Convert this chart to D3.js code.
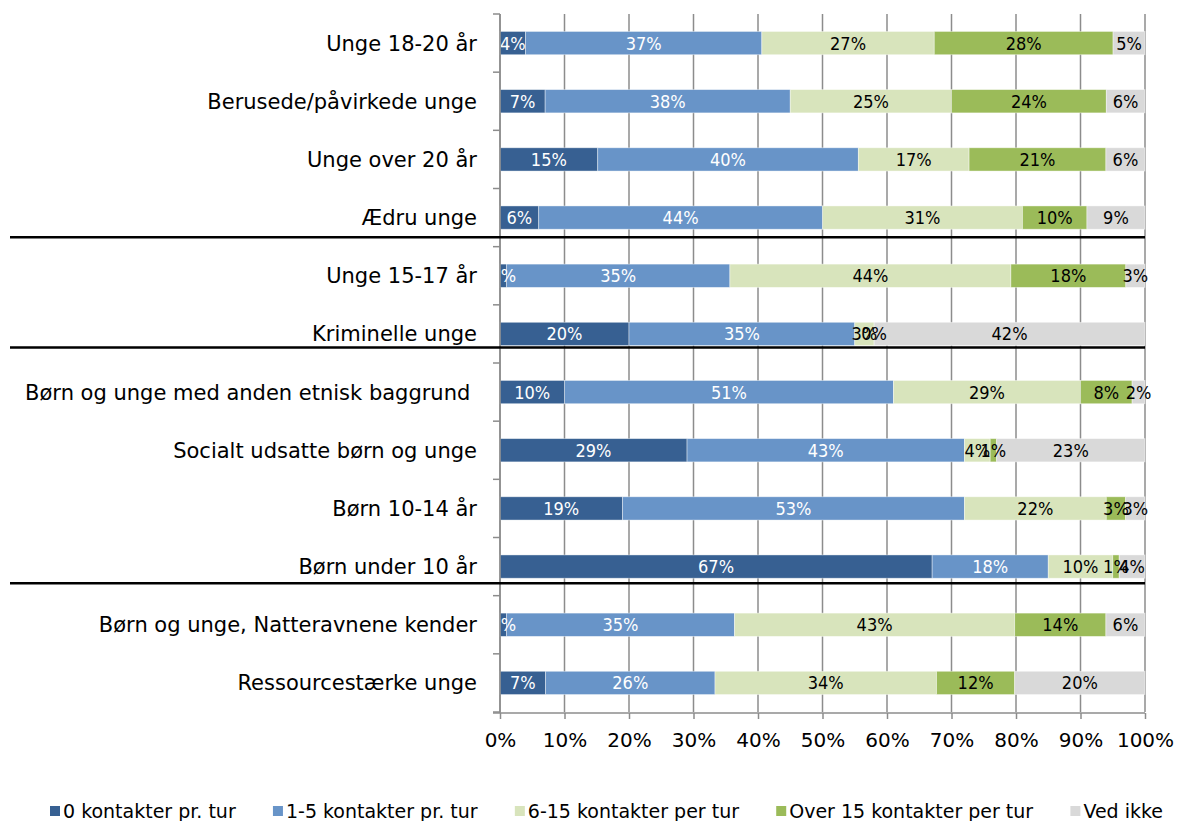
<!DOCTYPE html>
<html>
<head>
<meta charset="utf-8">
<script src="https://cdn.jsdelivr.net/npm/d3@7"></script>
<style>
  body { margin: 0; background: #fff; }
  svg { display: block; }
</style>
</head>
<body>
<svg id="chart"></svg>
<script>
// categories top to bottom
const categories = ['Unge 18-20 år', 'Berusede/påvirkede unge', 'Unge over 20 år', 'Ædru unge',
    'Unge 15-17 år', 'Kriminelle unge', 'Børn og unge med anden etnisk baggrund ',
    'Socialt udsatte børn og unge', 'Børn 10-14 år', 'Børn under 10 år',
    'Børn og unge, Natteravnene kender', 'Ressourcestærke unge']

const seriesNames = ['0 kontakter pr. tur', '1-5 kontakter pr. tur', '6-15 kontakter per tur',
    'Over 15 kontakter per tur', 'Ved ikke']

const kontakter0 = [4, 7, 15, 6, 1, 20, 10, 29, 19, 67, 1, 7]
const kontakter1til5 = [37, 38, 40, 44, 35, 35, 51, 43, 53, 18, 35, 26]
const kontakter6til15 = [27, 25, 17, 31, 44, 3, 29, 4, 22, 10, 43, 34]
const over15 = [28, 24, 21, 10, 18, 0, 8, 1, 3, 1, 14, 12]
const vedIkke = [5, 6, 6, 9, 3, 42, 2, 23, 3, 4, 6, 20]

const tickValues = [0, 0.1, 0.2, 0.3, 0.4, 0.5, 0.6, 0.7, 0.8, 0.9, 1]

// groups are split by a black line after these rows
const separatorsAfter = ['Ædru unge', 'Kriminelle unge', 'Børn under 10 år']

const colors = ['#376092', '#6894c8', '#d8e4bc', '#9bbb59', '#d9d9d9']
const labelColors = ['#fff', '#fff', '#000', '#000', '#000']

const svgWidth = 1179
const svgHeight = 821
const plotLeft = 500, plotRight = 1145, plotTop = 14, plotBottom = 712

const allSeries = [kontakter0, kontakter1til5, kontakter6til15, over15, vedIkke]

// one row object per category
const rows = categories.map((c, i) => {
    const r = { cat: c }
    seriesNames.forEach((s, j) => { r[s] = allSeries[j][i] })
    return r
})

const stacked = d3.stack()
    .keys(seriesNames)
    .offset(d3.stackOffsetExpand)(rows)

const svg = d3.select('#chart')
    .attr('width', svgWidth)
    .attr('height', svgHeight)

const x = d3.scaleLinear().domain([0, 1]).range([plotLeft, plotRight])
const y = d3.scaleBand().domain(categories).range([plotTop, plotBottom])
    .paddingInner(0.6).paddingOuter(0.3)

// vertical gridlines
svg.append('g')
    .selectAll('line')
    .data(tickValues)
    .join('line')
    .attr('x1', d => x(d)).attr('x2', d => x(d))
    .attr('y1', plotTop).attr('y2', plotBottom)
    .attr('stroke', '#8c8c8c')
    .attr('stroke-width', 1.5)

// bars
svg.append('g')
    .selectAll('g')
    .data(stacked)
    .join('g')
    .attr('fill', (d, i) => colors[i])
    .selectAll('rect')
    .data(d => d)
    .join('rect')
    .attr('x', d => x(d[0]))
    .attr('width', d => x(d[1]) - x(d[0]))
    .attr('y', d => y(d.data.cat))
    .attr('height', y.bandwidth())
    .attr('stroke', 'rgba(255,255,255,0.5)')
    .attr('stroke-width', 0.8)

// data labels, clipped at the left edge of the plot
svg.append('clipPath').attr('id', 'plotClip')
    .append('rect')
    .attr('x', plotLeft).attr('y', 0)
    .attr('width', svgWidth - plotLeft).attr('height', svgHeight)

svg.append('g')
    .attr('clip-path', 'url(#plotClip)')
    .selectAll('g')
    .data(stacked)
    .join('g')
    .attr('fill', (d, i) => labelColors[i])
    .selectAll('text')
    .data(d => d.map(v => ({ v, key: d.key })))
    .join('text')
    .attr('x', d => (x(d.v[0]) + x(d.v[1])) / 2)
    .attr('y', d => y(d.v.data.cat) + y.bandwidth() / 2)
    .attr('dy', '0.36em')
    .attr('text-anchor', 'middle')
    .attr('font-family', '"DejaVu Sans Condensed", "DejaVu Sans", sans-serif')
    .attr('font-stretch', 'condensed')
    .attr('font-size', '18px')
    .text(d => d.v.data[d.key] + '%')

// left axis
const yAxis = svg.append('g')
yAxis.append('line')
    .attr('x1', plotLeft).attr('x2', plotLeft)
    .attr('y1', plotTop).attr('y2', plotBottom + 1)
    .attr('stroke', '#8c8c8c').attr('stroke-width', 1.5)
const step = y.step()
yAxis.selectAll('line.tick')
    .data(d3.range(categories.length + 1))
    .join('line')
    .attr('class', 'tick')
    .attr('x1', plotLeft - 7).attr('x2', plotLeft)
    .attr('y1', i => plotTop + i * step).attr('y2', i => plotTop + i * step)
    .attr('stroke', '#8c8c8c').attr('stroke-width', 1.5)

yAxis.selectAll('text')
    .data(categories)
    .join('text')
    .attr('x', 477)
    .attr('y', d => y(d) + y.bandwidth() / 2)
    .attr('dy', '0.36em')
    .attr('text-anchor', 'end')
    .style('white-space', 'pre')
    .attr('font-family', '"DejaVu Sans", Verdana, sans-serif')
    .attr('font-size', '21px')
    .attr('fill', '#000')
    .text(d => d)

// bottom axis
const xAxis = svg.append('g')
    .attr('transform', `translate(0,${plotBottom + 1})`)
    .call(d3.axisBottom(x).tickValues(tickValues).tickSize(6).tickPadding(14)
        .tickFormat(d3.format('.0%')))
xAxis.select('.domain').attr('stroke', '#8c8c8c').attr('stroke-width', 1.5)
    .attr('d', `M${plotLeft - 7},0H${plotRight}`)
xAxis.selectAll('.tick line').attr('stroke', '#8c8c8c').attr('stroke-width', 1.5)
xAxis.selectAll('.tick text')
    .attr('font-family', '"DejaVu Sans", Verdana, sans-serif')
    .attr('font-size', '20px')
    .attr('fill', '#000')

// group separators
const sepOffset = [8, 2, 5]
svg.append('g')
    .selectAll('line')
    .data(separatorsAfter)
    .join('line')
    .attr('x1', 10).attr('x2', plotRight)
    .attr('y1', (d, i) => y(d) + y.bandwidth() + sepOffset[i])
    .attr('y2', (d, i) => y(d) + y.bandwidth() + sepOffset[i])
    .attr('stroke', '#000')
    .attr('stroke-width', 2.5)

// legend, spread between x=50 and x=1163
const legend = svg.append('g').attr('transform', 'translate(0,811)')
const legendItems = seriesNames.map((s, i) => {
    const g = legend.append('g')
    g.append('rect')
        .attr('x', 0).attr('y', -5)
        .attr('width', 10).attr('height', 10)
        .attr('fill', colors[i])
    const t = g.append('text')
        .attr('x', 13)
        .attr('dy', '0.36em')
        .attr('font-family', '"DejaVu Sans", Verdana, sans-serif')
        .attr('font-size', '19px')
        .attr('fill', '#000')
        .text(s)
    return { g, w: 13 + t.node().getComputedTextLength() }
})
const totalW = d3.sum(legendItems, d => d.w)
const gap = (1163 - 50 - totalW) / (legendItems.length - 1)
let lx = 50
legendItems.forEach(d => {
    d.g.attr('transform', `translate(${lx},0)`)
    lx += d.w + gap
})
</script>
</body>
</html>
